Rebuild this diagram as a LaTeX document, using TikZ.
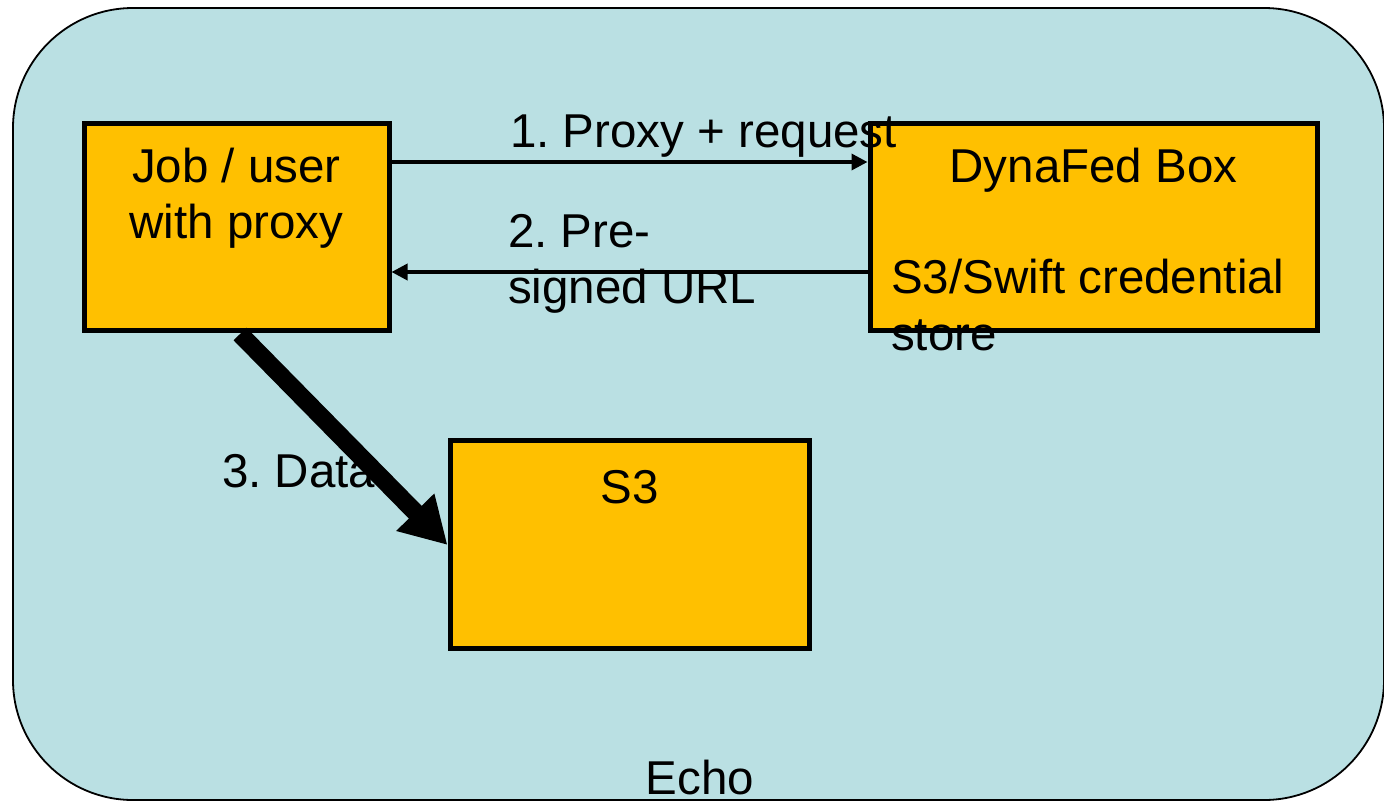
\documentclass[tikz,border=0pt]{standalone}
\usepackage{fontspec}
\setmainfont{Liberation Sans}
\usetikzlibrary{arrows.meta}
\definecolor{bgblue}{HTML}{BAE0E3}
\definecolor{boxorange}{HTML}{FFC000}
\frenchspacing
\begin{document}
\begin{tikzpicture}[x=1pt,y=-1pt,
  box/.style={draw=black,line width=5pt,fill=boxorange},
  lbl/.style={inner sep=0pt,anchor=base west,font=\fontsize{47.5}{56}\selectfont},
  clbl/.style={inner sep=0pt,anchor=base,font=\fontsize{47.5}{56}\selectfont},
  thinarrow/.style={line width=3.5pt,-{Triangle[length=16pt,width=16pt]}},
  thickarrow/.style={line width=18pt,-{Triangle[length=46pt,width=50pt]}}]
\useasboundingbox (0,0) rectangle (1384,801);
\draw[fill=bgblue,line width=1.8pt,rounded corners=120pt] (13,8) rectangle (1384,800);
\node[box,minimum width=305pt,minimum height=207pt,inner sep=0pt] (job) at (236.5,226.5) {};
\node[box,minimum width=447pt,minimum height=207pt,inner sep=0pt] (dyna) at (1093.5,226.5) {};
\node[box,minimum width=359pt,minimum height=208pt,inner sep=0pt] (s3) at (629.5,544) {};
\node[clbl] (t1) at (236.5,182) {Job / user};
\node[clbl] (t2) at (236.5,238) {with proxy};
\node[clbl] (t3) at (1093.5,182) {DynaFed Box};
\node[lbl] (t4) at (891,293) {S3/Swift credential};
\node[lbl] (t5) at (891,350) {store};
\node[clbl] (t6) at (630,503) {S3};
\node[clbl] (t7) at (700,794) {Echo};
\node[lbl] (l1) at (510,147) {1. Proxy + request};
\node[lbl] (l2) at (508,247) {2. Pre-};
\node[lbl] (l3) at (508,303) {signed URL};
\node[lbl] (l4) at (222,487) {3. Data};
\coordinate (a1s) at (job.east |- 0,162);
\coordinate (a1e) at (dyna.west |- 0,162);
\draw[thinarrow] (a1s) -- (a1e);
\coordinate (a2s) at (dyna.west |- 0,272);
\coordinate (a2e) at (job.east |- 0,272);
\draw[thinarrow] (a2s) -- (a2e);
\coordinate (a3s) at (240,334);
\coordinate (a3e) at (s3.west |- 0,545);
\draw[thickarrow] (a3s) -- (a3e);
\end{tikzpicture}
\end{document}
